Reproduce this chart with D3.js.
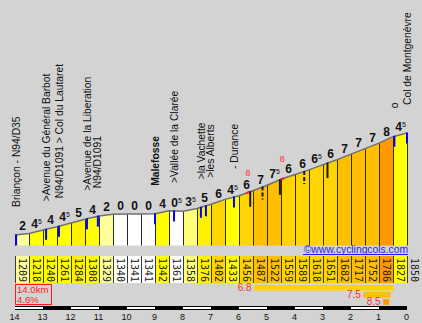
<!DOCTYPE html>
<html>
<head>
<meta charset="utf-8">
<script src="https://cdn.jsdelivr.net/npm/d3@7"></script>
<style>
  html, body { margin: 0; padding: 0; background: #d3d3d3; }
  svg { display: block; }
</style>
</head>
<body>
<svg id="chart" width="422" height="323"></svg>
<script>
// Elevation (m) every 500 m, from km 14 (Briançon) up to km 0 (Col de Montgenèvre)
const elevations = [1209, 1218, 1240, 1261, 1284, 1308, 1329, 1340, 1341, 1341, 1342, 1361, 1358, 1376,
                    1402, 1433, 1456, 1487, 1522, 1559, 1589, 1618, 1651, 1682, 1717, 1752, 1786, 1827, 1850];
// Printed gradient (%) of each 500 m section (negative = descending)
const grades = [2, 4.5, 4, 4.5, 5, 4, 2, 0, 0, 0, 4, -0.5, 3.5, 5, 6, 4.5, 6, 7, 7.5, 6, 6, 6.5, 6, 7, 7, 7, 8, 4.5];
// Distance markers on the km axis
const kmTicks = d3.range(14, -1, -1);

// Road junctions / places (km to the summit) with their names
const placeKm = [13.96, 12.89, 12.43, 11.43, 11.04, 9.0, 8.32, 7.36, 7.18, 6.18, 0.45, 0.0];
const placeNames = ["Briançon - N94/D35", ">Avenue du Général Barbot", "N94/D1091 > Col du Lautaret",
                    ">Avenue de la Liberation", "N94/D1091", "Malefosse", ">Vallée de la Clarée",
                    ">la Vachette", ">les Alberts", "- Durance", "o", "Col de Montgenèvre"];
const boldPlaces = ["Malefosse"];
// Other road points (km) – solid and dashed ticks
const pointKm = [5.6, 5.16, 4.54, 3.67, 2.84];
const pointDashed = [false, true, false, true, false];

// Steepest 100 m stretches: [from km, to km] and their gradient
const steepKm = [[5.75, 5.6], [4.53, 4.38]];
const steepGrade = [8, 8];

// Steepest 5 km, 1 km and 200 m: [from km, to km] and their gradient
const bestKm = [[5.46, 0.47], [1.56, 0.58], [0.85, 0.64]];
const bestGrade = [6.8, 7.5, 8.5];

const svg = d3.select("#chart");

const x = d3.scaleLinear().domain([14, 0]).range([15, 407]);
const y = d3.scaleLinear().domain([1143, 1850]).range([245.5, 133]);
const base = y(1143);

const color = d3.scaleThreshold()
  .domain([1, 3, 4, 5, 6, 7, 8])
  .range(["#ffffff", "#ffff99", "#ffff7a", "#ffff00", "#fff000", "#ffd400", "#ffbe00", "#ff9900"]);

const step = 0.5;
const segs = grades.map((g, i) => ({
  i, g,
  k0: 14 - i * step, k1: 14 - (i + 1) * step,
  e0: elevations[i], e1: elevations[i + 1]
}));

// elevation at any km by linear interpolation between the 500 m points
function elevAt(km) {
  const pos = (14 - km) / step;
  const i = Math.max(0, Math.min(elevations.length - 2, Math.floor(pos)));
  const t = pos - i;
  return elevations[i] + (elevations[i + 1] - elevations[i]) * t;
}

// ---- profile sections
svg.append("g").selectAll("path").data(segs).join("path")
  .attr("d", d => `M${x(d.k0)},${base}L${x(d.k0)},${y(d.e0)}L${x(d.k1)},${y(d.e1)}L${x(d.k1)},${base}Z`)
  .attr("fill", d => color(d.g));

// section separators
svg.append("g").selectAll("line").data(elevations).join("line")
  .attr("x1", (e, i) => x(14 - i * step) + 0.5).attr("x2", (e, i) => x(14 - i * step) + 0.5)
  .attr("y1", e => y(e)).attr("y2", base)
  .attr("stroke", "#2a2a2a").attr("stroke-width", 1);

// profile outline
svg.append("path")
  .datum(elevations)
  .attr("d", d3.line().x((e, i) => x(14 - i * step)).y(e => y(e)))
  .attr("fill", "none").attr("stroke", "#707070").attr("stroke-width", 1.5);

// steepest stretches in red
steepKm.forEach(([a, b], j) => {
  const pts = [a, (a + b) / 2, b].map(k => [x(k), y(elevAt(k))]);
  svg.append("path").attr("d", d3.line()(pts))
    .attr("fill", "none").attr("stroke", "#ff2a2a").attr("stroke-width", 2.2);
  const km = (a + b) / 2;
  svg.append("text")
    .attr("x", x(km)).attr("y", y(elevAt(km)) - 16.5)
    .attr("text-anchor", "middle")
    .attr("font-family", "Liberation Sans, Arial, sans-serif").attr("font-size", 9)
    .attr("fill", "#ff3030")
    .text(steepGrade[j]);
});

// road point ticks
pointKm.forEach((k, j) => {
  const yy = y(elevAt(k));
  svg.append("line")
    .attr("x1", x(k)).attr("x2", x(k))
    .attr("y1", yy - 0.5).attr("y2", yy + (pointDashed[j] ? 12.5 : 15))
    .attr("stroke", "#1a1a1a").attr("stroke-width", 2)
    .attr("stroke-dasharray", pointDashed[j] ? "4,2" : null);
});

// place markers in blue
placeKm.forEach(k => {
  const yy = y(elevAt(k));
  svg.append("line")
    .attr("x1", x(k)).attr("x2", x(k))
    .attr("y1", yy - 0.5).attr("y2", yy + 10.5)
    .attr("stroke", "#0000ff").attr("stroke-width", 2);
});

// place names, written upwards, nudged apart when too close
let prevX = -100;
placeKm.forEach((k, j) => {
  let cx = Math.max(14, x(k));
  if (cx - prevX < 9) cx = prevX + 9;
  prevX = cx;
  const yy = y(elevAt(k)) - 28;
  const name = placeNames[j];
  svg.append("text")
    .attr("transform", `translate(${cx},${yy}) rotate(-90)`)
    .attr("dy", "0.35em")
    .attr("font-family", "Liberation Sans, Arial, sans-serif")
    .attr("font-size", 10.3)
    .attr("font-weight", boldPlaces.includes(name) ? "bold" : "normal")
    .attr("fill", "#111")
    .text(name);
});

// gradient labels above each section, half percents as a small superscript 5
const gl = svg.append("g")
  .attr("font-family", "Liberation Sans, Arial, sans-serif")
  .attr("font-weight", "bold").attr("fill", "#111");
segs.forEach(d => {
  const v = Math.abs(d.g);
  const whole = Math.floor(v);
  const half = v - whole >= 0.5;
  const t = gl.append("text")
    .attr("x", (x(d.k0) + x(d.k1)) / 2 + 0.5)
    .attr("y", y((d.e0 + d.e1) / 2) - 4)
    .attr("text-anchor", "middle")
    .attr("font-size", 12);
  t.append("tspan").text(whole);
  if (half) t.append("tspan").attr("font-size", 7).attr("font-weight", "normal")
    .attr("dy", -4).text("5");
});

// copyright
svg.append("text")
  .attr("x", 408).attr("y", 252.5).attr("text-anchor", "end")
  .attr("font-family", "Liberation Sans, Arial, sans-serif").attr("font-size", 10.3)
  .attr("fill", "#1c1cff")
  .text("©www.cyclingcols.com");
svg.append("line").attr("x1", 303).attr("x2", 408).attr("y1", 254.5).attr("y2", 254.5)
  .attr("stroke", "#1c1cff").attr("stroke-width", 1);

// ---- elevation table
const cellTop = 256, cellH = 27;
const tbl = svg.append("g");
tbl.selectAll("rect").data(segs).join("rect")
  .attr("x", d => x(d.k0)).attr("y", cellTop)
  .attr("width", d => x(d.k1) - x(d.k0)).attr("height", cellH)
  .attr("fill", d => color(d.g));
tbl.selectAll("line").data(elevations).join("line")
  .attr("x1", (e, i) => x(14 - i * step) + 0.5).attr("x2", (e, i) => x(14 - i * step) + 0.5)
  .attr("y1", cellTop).attr("y2", cellTop + cellH)
  .attr("stroke", "#3a3a3a");
tbl.selectAll("text").data(elevations).join("text")
  .attr("transform", (e, i) => {
    const cx = i < segs.length ? x(14 - (i + 0.5) * step) : x(0) + 7.5;
    return `translate(${cx},${cellTop + 2}) rotate(90)`;
  })
  .attr("dy", "0.35em")
  .attr("font-family", "DejaVu Sans Mono, monospace").attr("font-size", 10)
  .attr("fill", "#222")
  .text(e => e);

// ---- summary box: length and average gradient
const lengthKm = segs.length * step;
const avg = (elevations[elevations.length - 1] - elevations[0]) / (lengthKm * 10);
svg.append("rect").attr("x", 15.5).attr("y", 284.5).attr("width", 36).attr("height", 20)
  .attr("fill", "none").attr("stroke", "#ff1a1a").attr("stroke-width", 1);
const sumText = svg.append("g")
  .attr("font-family", "Liberation Sans, Arial, sans-serif").attr("font-size", 9.6)
  .attr("fill", "#ff2020");
sumText.append("text").attr("x", 17).attr("y", 293).text(lengthKm.toFixed(1) + "km");
sumText.append("text").attr("x", 17).attr("y", 302.5).text(avg.toFixed(1) + "%");

// ---- steepest stretches bars
bestKm.forEach(([a, b], j) => {
  const top = 285 + j * 7.1;
  svg.append("rect")
    .attr("x", x(a)).attr("y", top)
    .attr("width", x(b) - x(a)).attr("height", 5.6)
    .attr("fill", color(bestGrade[j]));
  svg.append("text")
    .attr("x", x(a) - 2.5).attr("y", top + 5.7)
    .attr("text-anchor", "end")
    .attr("font-family", "Liberation Sans, Arial, sans-serif").attr("font-size", 10)
    .attr("fill", "#ff3030")
    .text(bestGrade[j].toFixed(1));
});

// ---- km scale bar
svg.append("rect").attr("x", x(14)).attr("y", 306).attr("width", x(0) - x(14)).attr("height", 4)
  .attr("fill", "#000");
svg.append("g").selectAll("rect").data(kmTicks.slice(0, -1).filter((k, i) => i % 2 === 0)).join("rect")
  .attr("x", k => x(k)).attr("y", 307)
  .attr("width", k => x(k - 1) - x(k)).attr("height", 2)
  .attr("fill", "#fff");
svg.append("g").selectAll("text").data(kmTicks).join("text")
  .attr("x", k => x(k) - 0.5).attr("y", 320)
  .attr("text-anchor", "middle")
  .attr("font-family", "Liberation Sans, Arial, sans-serif").attr("font-size", 9)
  .attr("fill", "#111")
  .text(k => k);
</script>
</body>
</html>
